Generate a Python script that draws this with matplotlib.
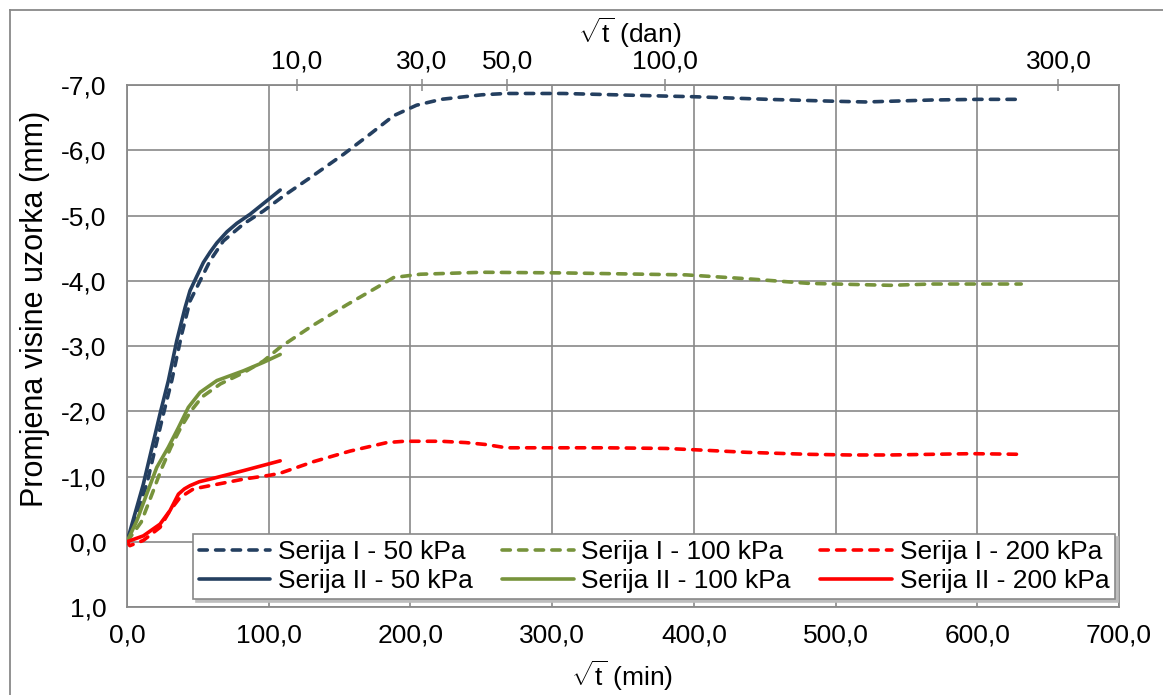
import numpy as np
import matplotlib
matplotlib.use("Agg")
import matplotlib.pyplot as plt
from matplotlib.ticker import FuncFormatter, FixedLocator
from matplotlib.lines import Line2D

plt.rcParams['font.family'] = ['Liberation Sans', 'DejaVu Sans']
plt.rcParams['mathtext.fontset'] = 'custom'
plt.rcParams['mathtext.rm'] = 'Liberation Sans'
plt.rcParams['mathtext.it'] = 'Liberation Sans:italic'

# ---------------- data (sqrt(t) in min, settlement in mm) ----------------
s1_50_x = [0, 13.9, 25.7, 31.6, 38.6, 44.5, 51.6, 58.7, 68, 82.2, 96.3, 110.5, 129.3, 152.9,
           171.7, 188.2, 204.3, 221.6, 250.4, 267.6, 307.9, 380.4, 400.7, 452.3, 501, 521.6,
           567.9, 601, 631.4]
s1_50_y = [0, -0.88, -1.96, -2.47, -3.18, -3.69, -4.0, -4.31, -4.61, -4.87, -5.07, -5.30, -5.58,
           -5.94, -6.25, -6.53, -6.69, -6.78, -6.85, -6.87, -6.87, -6.83, -6.82, -6.78, -6.75,
           -6.74, -6.77, -6.78, -6.78]

s2_50_x = [0, 11.5, 23.3, 29.2, 35.1, 41, 44.5, 49.3, 53.9, 58.7, 63.4, 70.5, 77.5, 86.9, 108.1]
s2_50_y = [0, -0.88, -1.96, -2.47, -3.08, -3.59, -3.85, -4.07, -4.28, -4.44, -4.58, -4.75,
           -4.88, -5.02, -5.39]

s1_100_x = [0, 10, 18, 24, 31, 38, 45, 53, 66, 82.2, 96.3, 108, 130, 155,
            176.5, 188.2, 207, 221.6, 250.4, 307.9, 394.6, 437.9, 481, 538.7, 567.5, 631]
s1_100_y = [0, -0.30, -0.75, -1.10, -1.45, -1.75, -2.0, -2.22, -2.42, -2.59, -2.77, -2.98,
            -3.30, -3.63, -3.90, -4.05, -4.10, -4.11, -4.13, -4.12, -4.09, -4.03, -3.96, -3.93,
            -3.95, -3.95]

s2_100_x = [0, 6.9, 13.9, 21, 29.2, 36.3, 43.3, 51.6, 63.4, 82.2, 96.3, 108.1]
s2_100_y = [0, -0.32, -0.73, -1.14, -1.45, -1.75, -2.06, -2.29, -2.47, -2.62, -2.75, -2.87]

s1_200_x = [0, 2, 11.5, 23.3, 30.4, 37.5, 46.9, 63.4, 82.2, 101, 108, 132, 157.5, 183.4,
            195.7, 221.6, 238.9, 253.3, 267.7, 287.9, 336.9, 380.2, 400.4, 437.9, 481, 509.9,
            538.7, 596.3, 631]
s1_200_y = [0, 0.06, -0.02, -0.22, -0.48, -0.68, -0.81, -0.88, -0.96, -1.02, -1.05, -1.23,
            -1.39, -1.52, -1.54, -1.54, -1.52, -1.49, -1.44, -1.44, -1.44, -1.43, -1.41, -1.37,
            -1.34, -1.33, -1.33, -1.35, -1.34]

s2_200_x = [0, 11.5, 23.3, 30.4, 36.3, 40.5, 44.5, 51, 58.7, 82.2, 108.1]
s2_200_y = [0, -0.09, -0.27, -0.48, -0.73, -0.81, -0.86, -0.92, -0.96, -1.09, -1.24]

labels = ["Serija I - 50 kPa", "Serija II - 50 kPa",
          "Serija I - 100 kPa", "Serija II - 100 kPa",
          "Serija I - 200 kPa", "Serija II - 200 kPa"]

top_days = [10, 30, 50, 100, 300]
top_labels = ["10,0", "30,0", "50,0", "100,0", "300,0"]

x_ticks = [0, 100, 200, 300, 400, 500, 600, 700]
y_ticks = [-7, -6, -5, -4, -3, -2, -1, 0, 1]

c_blue = '#243F60'
c_green = '#77933C'
c_red = '#FF0000'
grid_c = '#898989'

W, H = 1163, 695
fig = plt.figure(figsize=(W / 100, H / 100), dpi=100)
L, R, T, B = 127, 1119, 85, 607
ax = fig.add_axes([L / W, 1 - B / H, (R - L) / W, (B - T) / H])

FS = 19
lw = 2.6
dash = dict(linestyle=(0, (2.3, 2.3)), dash_capstyle='round')

series = [
    (s1_50_x, s1_50_y, c_blue, True),
    (s2_50_x, s2_50_y, c_blue, False),
    (s1_100_x, s1_100_y, c_green, True),
    (s2_100_x, s2_100_y, c_green, False),
    (s1_200_x, s1_200_y, c_red, True),
    (s2_200_x, s2_200_y, c_red, False),
]
handles = []
for (xs, ys, c, dashed), lab in zip(series, labels):
    if dashed:
        h, = ax.plot(xs, ys, color=c, lw=lw, label=lab, zorder=3, **dash)
    else:
        h, = ax.plot(xs, ys, color=c, lw=lw, label=lab, zorder=4,
                     solid_capstyle='round', solid_joinstyle='round')
    handles.append(h)

ax.set_xlim(0, 700)
ax.set_ylim(1, -7)
ax.xaxis.set_major_locator(FixedLocator(x_ticks))
ax.yaxis.set_major_locator(FixedLocator(y_ticks))
fmt = FuncFormatter(lambda v, p: f"{v:.1f}".replace('.', ','))
ax.xaxis.set_major_formatter(fmt)
ax.yaxis.set_major_formatter(fmt)
ax.tick_params(axis='both', length=0, labelsize=FS, colors='black')
ax.tick_params(axis='x', pad=12)
ax.tick_params(axis='y', pad=15)
ax.grid(True, color=grid_c, lw=1.2)
ax.set_axisbelow(True)
for s in ax.spines.values():
    s.set_color(grid_c)
    s.set_linewidth(1.3)

# secondary top axis: sqrt(t) in days, positioned at sqrt(days*1440) minutes
ax2 = ax.twiny()
ax2.set_xlim(ax.get_xlim())
ax2.set_xticks([np.sqrt(d * 1440) for d in top_days])
ax2.set_xticklabels(top_labels)
ax2.tick_params(axis='x', direction='inout', length=9, width=1.1, color=grid_c,
                labelsize=FS, pad=4)
for s in ax2.spines.values():
    s.set_visible(False)

leg = ax.legend(handles=handles, ncol=3, loc='lower left',
                bbox_to_anchor=(66 / 992, 8 / 522, 922 / 992, 66 / 522), mode='expand',
                borderaxespad=0, fontsize=FS, handlelength=2.7, handletextpad=0.3,
                labelspacing=0.2, borderpad=0.22, columnspacing=1.0, fancybox=False,
                framealpha=1, edgecolor=grid_c,
                shadow={'color': '#bdbdbd', 'alpha': 1.0, 'ox': 2, 'oy': -2})
leg.get_frame().set_linewidth(1.2)
leg.set_zorder(10)

# axis titles
fig.text(35 / W, 1 - 309 / H, "Promjena visine uzorka (mm)", rotation=90,
         ha='center', va='center', fontsize=22)
fig.text(622 / W, 1 - 676 / H, r"$\sqrt{\mathrm{t}}$ (min)", ha='center', va='center',
         fontsize=FS)
fig.text(630 / W, 1 - 33 / H, r"$\sqrt{\mathrm{t}}$ (dan)", ha='center', va='center',
         fontsize=FS)

# chart-area frame (partially cropped in reference)
fig.add_artist(Line2D([10 / W, 10 / W], [0, 1 - 10 / H], transform=fig.transFigure,
                      color=grid_c, lw=1.3))
fig.add_artist(Line2D([10 / W, 1], [1 - 10 / H, 1 - 10 / H], transform=fig.transFigure,
                      color=grid_c, lw=1.3))

fig.savefig("out.png", dpi=100, facecolor='white')
